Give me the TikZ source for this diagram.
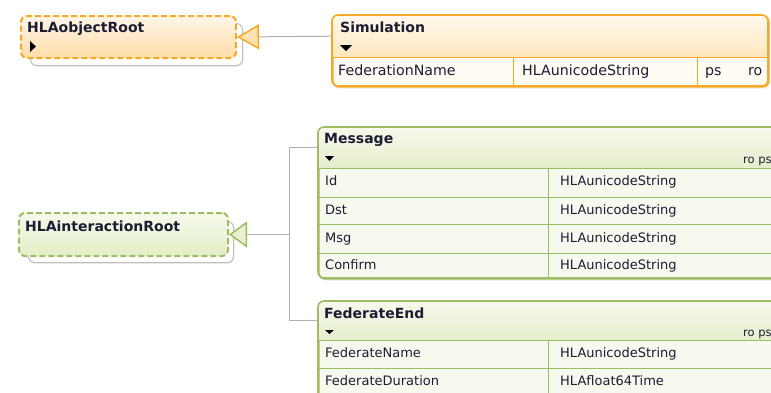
\documentclass[tikz,border=0pt]{standalone}
\usepackage{fontspec}
\setmainfont{DejaVu Sans}
\usepackage{tikz}
\usetikzlibrary{calc}
\usetikzlibrary{arrows.meta}
\usetikzlibrary{shadows}

\definecolor{orline}{RGB}{247,168,38}
\definecolor{orhead1}{RGB}{255,249,238}
\definecolor{orhead2}{RGB}{255,231,190}
\definecolor{orrow}{RGB}{255,251,242}
\definecolor{orroot1}{RGB}{255,246,232}
\definecolor{orroot2}{RGB}{255,221,168}
\definecolor{ortip}{RGB}{255,226,180}
\definecolor{grline}{RGB}{158,188,98}
\definecolor{grhead1}{RGB}{246,249,236}
\definecolor{grhead2}{RGB}{229,238,204}
\definecolor{grrow}{RGB}{246,249,237}
\definecolor{grroot1}{RGB}{246,250,236}
\definecolor{grroot2}{RGB}{226,238,198}
\definecolor{grtip}{RGB}{232,241,210}
\definecolor{linegray}{RGB}{175,175,175}
\definecolor{backgray}{RGB}{190,190,190}
\definecolor{textcol}{RGB}{28,28,52}

\newcommand{\hlaTitle}{\fontsize{14}{16}\selectfont\bfseries}
\newcommand{\hlaRow}{\fontsize{14.2}{16}\selectfont}
\newcommand{\hlaRowSm}{\fontsize{13}{15}\selectfont}
\newcommand{\hlaSmall}{\fontsize{11.5}{13}\selectfont}

\begin{document}
\begin{tikzpicture}[x=1pt,y=-1pt,
    conn/.style={draw=linegray,line width=1pt},
    ttl/.style={anchor=west,inner sep=0pt,text height=1.45ex,text depth=.35ex,text=textcol,font=\hlaTitle},
    cell/.style={anchor=west,inner sep=0pt,text height=1.45ex,text depth=.35ex,text=textcol,font=\hlaRow},
    cellsm/.style={cell,font=\hlaRowSm},
    flag/.style={cell,font=\hlaSmall},
    rootback/.style={draw=backgray,line width=1pt,fill=white,rounded corners=6pt,anchor=north west,inner sep=0pt,
      drop shadow={opacity=0.12,shadow xshift=1pt,shadow yshift=-1.5pt}},
    rootor/.style={draw=orline,line width=2pt,dash pattern=on 6pt off 3pt,rounded corners=6pt,anchor=north west,inner sep=0pt,
      top color=orroot1,bottom color=orroot2},
    rootgr/.style={draw=grline,line width=2pt,dash pattern=on 6pt off 3pt,rounded corners=6pt,anchor=north west,inner sep=0pt,
      top color=grroot1,bottom color=grroot2},
    clsor/.style={draw=orline,line width=1.6pt,rounded corners=6pt,fill=orrow,anchor=north west,inner sep=0pt,
      drop shadow={opacity=0.12,shadow xshift=1pt,shadow yshift=-2pt}},
    clsgr/.style={draw=grline,line width=1.6pt,rounded corners=6pt,fill=grrow,anchor=north west,inner sep=0pt,
      drop shadow={opacity=0.12,shadow xshift=1pt,shadow yshift=-2pt}},
    headbox/.style={anchor=north west,inner sep=0pt}]
    \useasboundingbox (0,0) rectangle (771,392);
    \clip (0,0) rectangle (771,392);

    % HLAobjectRoot
    \coordinate (A) at (20,15);
    \node[rootback,minimum width=212pt,minimum height=42pt] (objback) at ($(A)+(10,8)$) {};
    \node[rootor,minimum width=215pt,minimum height=42pt] (objroot) at (A) {};
    \node[ttl] (objname) at ($(A)+(7,14)$) {HLAobjectRoot};
    \fill[black] ($(A)+(10,26)$) -- ($(A)+(10,37)$) -- ($(A)+(16,31.5)$) -- cycle;

    % Simulation
    \coordinate (A) at (332,15);
    \node[clsor,minimum width=436pt,minimum height=71pt] (sim) at (A) {};
    \begin{scope}
        \clip[rounded corners=6pt] (A) rectangle ($(A)+(436,71)$);
        \shade[top color=orhead1,bottom color=orhead2] (A) rectangle ($(A)+(436,42)$);
    \end{scope}
    \node[headbox,minimum width=436pt,minimum height=42pt] (simhead) at (A) {};
    \draw[orline,line width=1pt] ($(A)+(0,42)$) -- ($(A)+(436,42)$);
    \draw[orline,line width=1pt] ($(A)+(181,42)$) -- ($(A)+(181,71)$);
    \draw[orline,line width=1pt] ($(A)+(365,42)$) -- ($(A)+(365,71)$);
    \draw[orline,line width=1.6pt,rounded corners=6pt] (A) rectangle ($(A)+(436,71)$);
    \node[ttl] (simname) at ($(A)+(8,14)$) {Simulation};
    \fill[black] ($(A)+(8,30)$) -- ($(A)+(20,30)$) -- ($(A)+(14,36)$) -- cycle;
    \node[cell] (simattr) at ($(A)+(6,57)$) {FederationName};
    \node[cell] (simtype) at ($(A)+(190,57)$) {HLAunicodeString};
    \node[cell] (simps) at ($(A)+(373,57)$) {ps};
    \node[cell] (simro) at ($(A)+(416,57)$) {ro};

    % HLAinteractionRoot
    \coordinate (A) at (18,212);
    \node[rootback,minimum width=205pt,minimum height=41pt] (intback) at ($(A)+(10,9)$) {};
    \node[rootgr,minimum width=209pt,minimum height=43pt] (introot) at (A) {};
    \node[ttl] (intname) at ($(A)+(7,16)$) {HLAinteractionRoot};

    % Message
    \coordinate (A) at (318,127);
    \node[clsgr,minimum width=480pt,minimum height=151pt] (msg) at (A) {};
    \begin{scope}
        \clip[rounded corners=6pt] (A) rectangle ($(A)+(480,151)$);
        \shade[top color=grhead1,bottom color=grhead2] (A) rectangle ($(A)+(480,41)$);
    \end{scope}
    \node[headbox,minimum width=480pt,minimum height=41pt] (msghead) at (A) {};
    \draw[grline,line width=1pt] ($(A)+(0,41)$) -- ($(A)+(480,41)$);
    \draw[grline,line width=1pt] ($(A)+(0,70)$) -- ($(A)+(480,70)$);
    \draw[grline,line width=1pt] ($(A)+(0,97)$) -- ($(A)+(480,97)$);
    \draw[grline,line width=1pt] ($(A)+(0,126)$) -- ($(A)+(480,126)$);
    \draw[grline,line width=1pt] ($(A)+(230,41)$) -- ($(A)+(230,151)$);
    \draw[grline,line width=1.6pt,rounded corners=6pt] (A) rectangle ($(A)+(480,151)$);
    \node[ttl] (msgname) at ($(A)+(6,13)$) {Message};
    \fill[black] ($(A)+(7,29)$) -- ($(A)+(16,29)$) -- ($(A)+(11.5,34)$) -- cycle;
    \node[flag] (msgflags) at ($(A)+(425,33)$) {ro ps};
    \node[cellsm] (msgid) at ($(A)+(7,55)$) {Id};
    \node[cellsm] (msgidt) at ($(A)+(242,55)$) {HLAunicodeString};
    \node[cellsm] (msgdst) at ($(A)+(7,84)$) {Dst};
    \node[cellsm] (msgdstt) at ($(A)+(242,84)$) {HLAunicodeString};
    \node[cellsm] (msgmsg) at ($(A)+(7,112)$) {Msg};
    \node[cellsm] (msgmsgt) at ($(A)+(242,112)$) {HLAunicodeString};
    \node[cellsm] (msgcnf) at ($(A)+(7,139)$) {Confirm};
    \node[cellsm] (msgcnft) at ($(A)+(242,139)$) {HLAunicodeString};

    % FederateEnd
    \coordinate (A) at (318,301);
    \node[clsgr,minimum width=480pt,minimum height=120pt] (fed) at (A) {};
    \begin{scope}
        \clip[rounded corners=6pt] (A) rectangle ($(A)+(480,120)$);
        \shade[top color=grhead1,bottom color=grhead2] (A) rectangle ($(A)+(480,39)$);
    \end{scope}
    \node[headbox,minimum width=480pt,minimum height=39pt] (fedhead) at (A) {};
    \draw[grline,line width=1pt] ($(A)+(0,39)$) -- ($(A)+(480,39)$);
    \draw[grline,line width=1pt] ($(A)+(0,67)$) -- ($(A)+(480,67)$);
    \draw[grline,line width=1pt] ($(A)+(0,95)$) -- ($(A)+(480,95)$);
    \draw[grline,line width=1pt] ($(A)+(230,39)$) -- ($(A)+(230,120)$);
    \draw[grline,line width=1.6pt,rounded corners=6pt] (A) rectangle ($(A)+(480,120)$);
    \node[ttl] (fedname) at ($(A)+(6,14)$) {FederateEnd};
    \fill[black] ($(A)+(7,29)$) -- ($(A)+(16,29)$) -- ($(A)+(11.5,33)$) -- cycle;
    \node[flag] (fedflags) at ($(A)+(425,32)$) {ro ps};
    \node[cellsm] (fedfn) at ($(A)+(7,53)$) {FederateName};
    \node[cellsm] (fedfnt) at ($(A)+(242,53)$) {HLAunicodeString};
    \node[cellsm] (fedfd) at ($(A)+(7,81)$) {FederateDuration};
    \node[cellsm] (fedfdt) at ($(A)+(242,81)$) {HLAfloat64Time};

    % generalisations
    \draw[conn,-{Triangle[length=22pt,width=25pt,fill=ortip,color=orline,line width=1.5pt]}] (simhead.west) -- (objroot.east);
    \coordinate (jn) at ($(introot.east)+(60,0)$);
    \draw[conn] (msghead.west) -| (jn);
    \draw[conn] (fedhead.west) -| (jn);
    \draw[conn,-{Triangle[length=18pt,width=26pt,fill=grtip,color=grline,line width=1.5pt]}] (jn) -- (introot.east);
\end{tikzpicture}
\end{document}
